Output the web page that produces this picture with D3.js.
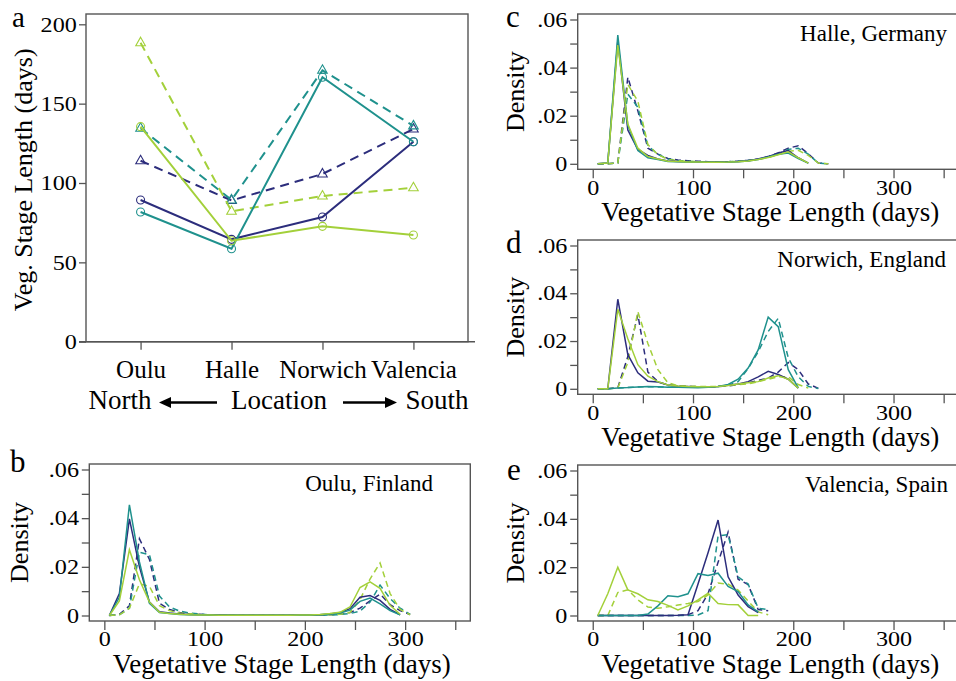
<!DOCTYPE html>
<html>
<head>
<meta charset="utf-8">
<script src="https://cdn.jsdelivr.net/npm/d3@7"></script>
<style>
    body { margin: 0; background: #fff; }
    svg { display: block; font-family: "Liberation Serif", "Times New Roman", serif; }
</style>
</head>
<body>
<div id="chart"></div>
<script>
// ---- panel a: mean vegetative stage length by location ----
const locations = ["Oulu", "Halle", "Norwich", "Valencia"];
const stageNavySolid = [89.3, 64.5, 78.6, 126];
const stageTealSolid = [81.7, 58.6, 166.6, 126];
const stageLimeSolid = [135.5, 63.6, 72.7, 67.2];
const stageNavyDash = [114, 89, 105.7, 134];
const stageTealDash = [134.5, 89.3, 171, 136];
const stageLimeDash = [188.4, 82.2, 91.8, 97];
const stageTicks = [0, 50, 100, 150, 200];

// ---- density panels: bin midpoints (days) ----
const binDays = [5, 15, 25, 35, 45, 55, 65, 75, 85, 95, 105, 115, 125, 135, 145, 155,
    165, 175, 185, 195, 205, 215, 225, 235, 245, 255, 265, 275, 285, 295, 305];
const densityTicks = [0, .01, .02, .03, .04, .05, .06];
const densityLabels = ["0", "", ".02", "", ".04", "", ".06"];
const dayTicks = [0, 50, 100, 150, 200, 250, 300, 350];
const dayLabels = ["0", "", "100", "", "200", "", "300", ""];

// Oulu, Finland
const ouluNavySolid = [0, .009, .0397, .020, .0055, .0015, .001, .0006, .0004, .0003,
    .0002, .0002, .0001, .0001, .0001, .0001, .0001, .0001, .0001, .0002, .0002, .0003,
    .0006, .0012, .0028, .0075, .0082, .0062, .0025, .0003];
const ouluTealSolid = [0, .0075, .0455, .022, .005, .0012, .0008, .0004, .0003, .0002,
    .0002, .0001, .0001, .0001, .0001, .0001, .0001, .0001, .0001, .0001, .0002, .0003,
    .0005, .001, .0022, .0058, .0072, .0048, .002, .0003];
const ouluLimeSolid = [0, .006, .027, .0147, .0055, .0013, .0008, .0005, .0003, .0002,
    .0002, .0001, .0001, .0001, .0001, .0001, .0001, .0001, .0001, .0002, .0002, .0004,
    .0008, .0013, .0035, .0115, .0138, .0112, .0042, .0005];
const ouluNavyDash = [0, .0005, .004, .0315, .023, .005, .0025, .0012, .0007, .0005,
    .0003, .0002, .0002, .0001, .0001, .0001, .0001, .0001, .0001, .0001, .0002, .0002,
    .0003, .0006, .0012, .003, .006, .0088, .0045, .002, .0004];
const ouluTealDash = [0, .0003, .003, .026, .025, .008, .0035, .0018, .001, .0006,
    .0003, .0002, .0002, .0001, .0001, .0001, .0001, .0001, .0001, .0001, .0001, .0001,
    .0002, .0004, .0008, .0018, .0055, .0125, .007, .003, .0005];
const ouluLimeDash = [0, .0003, .003, .013, .012, .004, .002, .001, .0007, .0004,
    .0002, .0002, .0001, .0001, .0001, .0001, .0001, .0001, .0001, .0001, .0002, .0002,
    .0003, .0005, .0012, .0065, .015, .0216, .009, .0025, .0003];

// Halle, Germany
const halleNavySolid = [0, .0003, .051, .014, .006, .0035, .002, .0012, .001, .0009, .0008,
    .0007, .0007, .0008, .001, .0013, .002, .003, .0045, .0055, .0025, .0003];
const halleTealSolid = [0, .0003, .0535, .016, .0055, .0025, .0018, .001, .0009, .0008, .0007,
    .0006, .0006, .0007, .0009, .0012, .0018, .0028, .004, .0045, .0022, .0003];
const halleLimeSolid = [0, .0003, .0494, .0165, .0065, .003, .002, .0011, .001, .0008, .0007,
    .0006, .0006, .0007, .0009, .0012, .0018, .0026, .0038, .005, .0025, .0003];
const halleNavyDash = [0, 0, .0003, .036, .022, .0065, .004, .0022, .0016, .0013, .0011,
    .0009, .0008, .0009, .0011, .0015, .002, .003, .0045, .0065, .0075, .0042, .0003, 0];
const halleTealDash = [0, 0, .0003, .029, .0235, .0075, .004, .002, .0014, .0011, .0009,
    .0008, .0008, .0009, .0011, .0014, .0019, .0028, .004, .006, .0065, .004, .0003, 0];
const halleLimeDash = [0, 0, .0003, .033, .026, .008, .0038, .0018, .0013, .001, .0009,
    .0008, .0007, .0008, .001, .0013, .0018, .0026, .0038, .0052, .0056, .0035, .0003, 0];

// Norwich, England
const norwichNavySolid = [0, 0, .0375, .0143, .0067, .0032, .0028, .0016, .0011, .001, .0008,
    .0008, .001, .0015, .002, .003, .005, .0073, .006, .004, .0003];
const norwichTealSolid = [0, 0, .0003, .0005, .0008, .001, .0009, .0007, .0006, .0005, .0004,
    .0006, .001, .0018, .004, .0087, .0163, .030, .026, .008, .0004];
const norwichLimeSolid = [0, 0, .0333, .021, .0101, .0053, .003, .0016, .0012, .001, .0009,
    .0009, .001, .0014, .002, .0025, .003, .0045, .0055, .004, .0003];
const norwichNavyDash = [0, 0, .0005, .0135, .031, .007, .003, .0016, .0012, .001, .0009,
    .0009, .0009, .0012, .0018, .0025, .0035, .0045, .007, .011, .008, .002, .0002];
const norwichTealDash = [0, 0, .0003, .0005, .0008, .0009, .0008, .0007, .0006, .0006, .0006,
    .0007, .001, .0015, .003, .0085, .0155, .024, .0295, .013, .005, .001, .0001];
const norwichLimeDash = [0, 0, .0003, .011, .0323, .019, .008, .0025, .0013, .0011, .001,
    .001, .001, .0013, .0018, .002, .003, .004, .005, .005, .0018, .0003];

// Valencia, Spain
const valenciaNavySolid = [0, 0, 0, 0, 0, 0, 0, 0, .0001, .0003, .013, .026, .0395, .016,
    .0085, .0037, .0012];
const valenciaTealSolid = [0, 0, 0, 0, 0, .0006, .004, .0082, .0078, .009, .0173, .0166,
    .0175, .012, .0099, .0044, .0015];
const valenciaLimeSolid = [0, .009, .020, .0106, .009, .0065, .0058, .0042, .0023, .004,
    .0065, .0092, .005, .0045, .0044, 0, 0];
const valenciaNavyDash = [0, 0, 0, 0, 0, 0, 0, 0, 0, .0003, .002, .009, .022, .0345, .015,
    .0128, .0025, .002];
const valenciaTealDash = [0, 0, 0, 0, 0, 0, 0, 0, 0, 0, .0002, .002, .033, .0334, .016,
    .013, .003, .0025];
const valenciaLimeDash = [0, 0, .0095, .0106, .0065, .0035, .003, .0036, .0043, .005,
    .0058, .0085, .0134, .013, .0105, .006, .0015, .0003];

const navy = "#2c2d7c", teal = "#1f918d", lime = "#a3d03a";
const frameColor = "#555";

const svg = d3.select("#chart").append("svg")
    .attr("width", 956)
    .attr("height", 681);

// tick numbers in the figure are drawn a bit wide, so they get a horizontal stretch
function styleAxis(g, size, stretch) {
    g.select(".domain").remove();
    g.selectAll(".tick line").attr("stroke", frameColor).attr("stroke-width", 1.3);
    g.selectAll(".tick text")
        .attr("fill", "#000")
        .attr("transform", stretch ? `scale(${stretch},1)` : null)
        .style("font-family", "'Liberation Serif', serif")
        .style("font-size", size + "px");
}

// ===================== panel a =====================
let a = {left: 86, right: 468, top: 14, bottom: 341.7};
a.x = d3.scaleLinear().domain([0.4, 4.6]).range([a.left, a.right]);
a.y = d3.scaleLinear().domain([0, 200]).range([a.bottom, 24.3]);

let ga = svg.append("g").attr("class", "panel-a");

ga.append("rect")
    .attr("x", a.left).attr("y", a.top)
    .attr("width", a.right - a.left).attr("height", a.bottom - a.top)
    .attr("fill", "none").attr("stroke", frameColor).attr("stroke-width", 1.4);

ga.append("line")
    .attr("x1", a.left - 7).attr("x2", a.right + 7)
    .attr("y1", a.bottom).attr("y2", a.bottom)
    .attr("stroke", frameColor).attr("stroke-width", 1.4);

ga.append("g")
    .attr("transform", `translate(${a.left},0)`)
    .call(d3.axisLeft(a.y).tickValues(stageTicks).tickSize(7).tickPadding(1))
    .call(g => styleAxis(g, 21, 1.15));

ga.append("g")
    .attr("transform", `translate(0,${a.bottom})`)
    .call(d3.axisBottom(a.x).tickValues([1, 2, 3, 4]).tickSize(8).tickPadding(11)
        .tickFormat(d => locations[d - 1]))
    .call(g => styleAxis(g, 25, null));

let stageSeries = [
    {values: stageNavyDash, color: navy, dashed: true},
    {values: stageTealDash, color: teal, dashed: true},
    {values: stageLimeDash, color: lime, dashed: true},
    {values: stageNavySolid, color: navy, dashed: false},
    {values: stageTealSolid, color: teal, dashed: false},
    {values: stageLimeSolid, color: lime, dashed: false}
];

let stageLine = d3.line()
    .x((d, i) => a.x(i + 1))
    .y(d => a.y(d));

stageSeries.forEach(s => {
    ga.append("path")
        .datum(s.values)
        .attr("d", stageLine)
        .attr("fill", "none")
        .attr("stroke", s.color)
        .attr("stroke-width", 2)
        .attr("stroke-dasharray", s.dashed ? "9,6" : null);

    if (s.dashed) {
        ga.selectAll(null)
            .data(s.values)
            .enter().append("path")
            .attr("d", "M0,-5.5L4.8,3L-4.8,3Z")
            .attr("transform", (d, i) => `translate(${a.x(i + 1)},${a.y(d)})`)
            .attr("fill", "none")
            .attr("stroke", s.color)
            .attr("stroke-width", 1.1);
    } else {
        ga.selectAll(null)
            .data(s.values)
            .enter().append("circle")
            .attr("cx", (d, i) => a.x(i + 1))
            .attr("cy", d => a.y(d))
            .attr("r", 4)
            .attr("fill", "none")
            .attr("stroke", s.color)
            .attr("stroke-width", 1.1);
    }
});

ga.append("text")
    .attr("transform", `translate(32,${(a.top + a.bottom) / 2 + 2}) rotate(-90)`)
    .attr("text-anchor", "middle")
    .style("font-size", "26px")
    .text("Veg. Stage Length (days)");

// North <- Location -> South
let arrowY = 402.5;
ga.append("text").attr("x", 120).attr("y", 409).attr("text-anchor", "middle")
    .style("font-size", "27px").text("North");
ga.append("text").attr("x", 279).attr("y", 409).attr("text-anchor", "middle")
    .style("font-size", "27px").text("Location");
ga.append("text").attr("x", 437).attr("y", 409).attr("text-anchor", "middle")
    .style("font-size", "27px").text("South");

ga.append("line").attr("x1", 168).attr("x2", 217).attr("y1", arrowY).attr("y2", arrowY)
    .attr("stroke", "#000").attr("stroke-width", 2.6);
ga.append("path").attr("d", `M159,${arrowY}L171,${arrowY - 5.5}L171,${arrowY + 5.5}Z`).attr("fill", "#000");
ga.append("line").attr("x1", 343).attr("x2", 388).attr("y1", arrowY).attr("y2", arrowY)
    .attr("stroke", "#000").attr("stroke-width", 2.6);
ga.append("path").attr("d", `M397,${arrowY}L385,${arrowY - 5.5}L385,${arrowY + 5.5}Z`).attr("fill", "#000");

ga.append("text").attr("x", 12).attr("y", 27)
    .style("font-size", "29px").text("a");

// ===================== density panels =====================
let panels = [
    {letter: "b", place: "Oulu, Finland", left: 89.3, top: 464, bottom: 621,
        letterX: 10, letterY: 472, placeX: 433, labelX: 28,
        series: [ouluNavyDash, ouluTealDash, ouluLimeDash, ouluNavySolid, ouluTealSolid, ouluLimeSolid]},
    {letter: "c", place: "Halle, Germany", left: 577.7, top: 14, bottom: 169.3,
        letterX: 506, letterY: 27, placeX: 947, labelX: 524,
        series: [halleNavyDash, halleTealDash, halleLimeDash, halleNavySolid, halleTealSolid, halleLimeSolid]},
    {letter: "d", place: "Norwich, England", left: 577.7, top: 240, bottom: 394.3,
        letterX: 506, letterY: 253, placeX: 946, labelX: 524,
        series: [norwichNavyDash, norwichTealDash, norwichLimeDash, norwichNavySolid, norwichTealSolid, norwichLimeSolid]},
    {letter: "e", place: "Valencia, Spain", left: 577.7, top: 465, bottom: 621,
        letterX: 507, letterY: 480, placeX: 948, labelX: 524,
        series: [valenciaNavyDash, valenciaTealDash, valenciaLimeDash, valenciaNavySolid, valenciaTealSolid, valenciaLimeSolid]}
];

let seriesColors = [navy, teal, lime, navy, teal, lime];
let seriesDashed = [true, true, true, false, false, false];

panels.forEach(p => {
    let width = 381;
    let x = d3.scaleLinear().domain([-15, 365]).range([p.left, p.left + width]);
    let y = d3.scaleLinear().domain([0, .06]).range([p.bottom - 5.5, p.top + 5.5]);

    let g = svg.append("g").attr("class", "panel-" + p.letter);

    g.append("rect")
        .attr("x", p.left).attr("y", p.top)
        .attr("width", width).attr("height", p.bottom - p.top)
        .attr("fill", "none").attr("stroke", frameColor).attr("stroke-width", 1.4);

    g.append("g")
        .attr("transform", `translate(${p.left},0)`)
        .call(d3.axisLeft(y).tickValues(densityTicks).tickSize(7.5).tickPadding(1.5)
            .tickFormat((d, i) => densityLabels[i]))
        .call(ax => styleAxis(ax, 21, 1.15));

    g.append("g")
        .attr("transform", `translate(0,${p.bottom})`)
        .call(d3.axisBottom(x).tickValues(dayTicks).tickSize(9).tickPadding(1.5)
            .tickFormat((d, i) => dayLabels[i]))
        .call(ax => styleAxis(ax, 21, 1.15));

    let line = d3.line()
        .x((d, i) => x(binDays[i]))
        .y(d => y(d));

    p.series.forEach((values, k) => {
        g.append("path")
            .datum(values)
            .attr("d", line)
            .attr("fill", "none")
            .attr("stroke", seriesColors[k])
            .attr("stroke-width", 1.5)
            .attr("stroke-dasharray", seriesDashed[k] ? "6,4" : null);
    });

    g.append("text")
        .attr("x", p.placeX).attr("y", p.top + 27)
        .attr("text-anchor", "end")
        .style("font-size", "23px")
        .text(p.place);

    g.append("text")
        .attr("x", p.left + width / 2 + 2).attr("y", p.bottom + 52)
        .attr("text-anchor", "middle")
        .style("font-size", "27px")
        .text("Vegetative Stage Length (days)");

    g.append("text")
        .attr("transform", `translate(${p.labelX},${(p.top + p.bottom) / 2}) rotate(-90)`)
        .attr("text-anchor", "middle")
        .style("font-size", "26px")
        .text("Density");

    g.append("text")
        .attr("x", p.letterX).attr("y", p.letterY)
        .style("font-size", "31px")
        .text(p.letter);
});
</script>
</body>
</html>
